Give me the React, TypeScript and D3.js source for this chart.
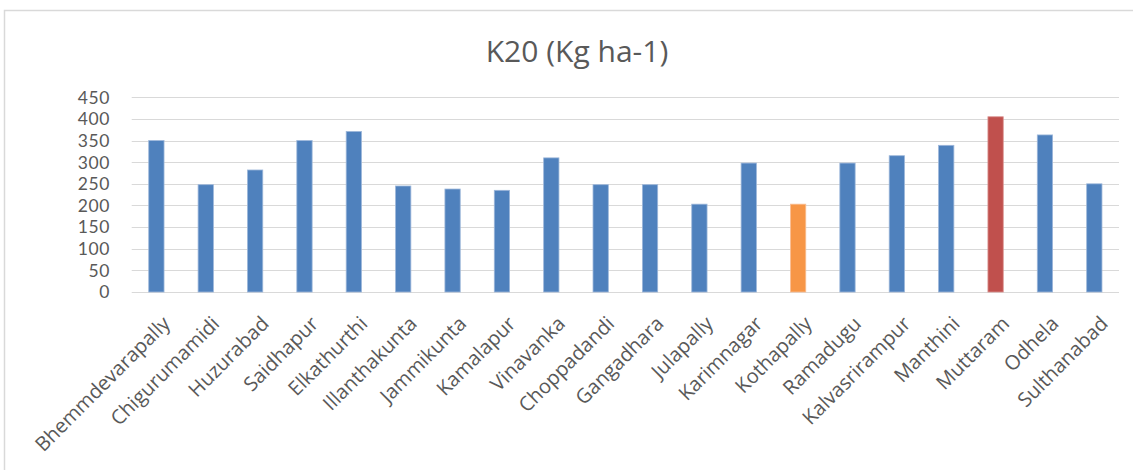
import React from "react";
import * as d3 from "d3";

// Available potassium (K2O) by mandal, kg per hectare
const mandals = [
  "Bhemmdevarapally", "Chigurumamidi", "Huzurabad", "Saidhapur", "Elkathurthi",
  "Illanthakunta", "Jammikunta", "Kamalapur", "Vinavanka", "Choppadandi",
  "Gangadhara", "Julapally", "Karimnagar", "Kothapally", "Ramadugu",
  "Kalvasrirampur", "Manthini", "Muttaram", "Odhela", "Sulthanabad",
];
const k2oValues = [
  350, 248, 282, 350, 371,
  245, 238, 235, 310, 248,
  248, 203, 298, 203, 298,
  315, 339, 405, 363, 250,
];
const yTicks = [0, 50, 100, 150, 200, 250, 300, 350, 400, 450];
const chartTitle = "K20 (Kg ha-1)";

// Mandals picked out in their own colour
const lowestMandal = "Kothapally";
const highestMandal = "Muttaram";

const W = 1133;
const H = 470;
const plot = { left: 131.7, right: 1119, top: 97.3, bottom: 292 };
const FONT = "'Open Sans', 'Liberation Sans', sans-serif";
const TEXT = "#595959";

function barColor(name: string): string {
  if (name === highestMandal) return "#C0504D";
  if (name === lowestMandal) return "#F79646";
  return "#4F81BD";
}
function barEdge(name: string): string {
  if (name === highestMandal) return "#D9928F";
  if (name === lowestMandal) return "#F9BE93";
  return "#9DB7DA";
}

export default function App() {
  const x = d3
    .scaleBand<string>()
    .domain(mandals)
    .range([plot.left, plot.right])
    .paddingInner(0.69)
    .paddingOuter(0.345);
  const y = d3.scaleLinear().domain([0, 450]).range([plot.bottom, plot.top]);

  return (
    <svg
      width={W}
      height={H}
      style={{ display: "block", position: "absolute", left: 0, top: 0, background: "#fff" }}
      fontFamily={FONT}
    >
      <rect x={0} y={0} width={W} height={H} fill="#fff" />
      <rect x={4.5} y={10.5} width={1142} height={480} fill="#fff" stroke="#D9D9D9" strokeWidth={1.5} />

      <text x={577} y={62} textAnchor="middle" fontSize={30} fill={TEXT}>
        {chartTitle}
      </text>

      {yTicks.map((t) => (
        <g key={t}>
          <line
            x1={plot.left}
            x2={plot.right}
            y1={Math.round(y(t)) + 0.5}
            y2={Math.round(y(t)) + 0.5}
            stroke="#D9D9D9"
            strokeWidth={1.2}
          />
          <text
            x={110}
            y={y(t)}
            dy="0.36em"
            textAnchor="end"
            fontSize={17.5}
            fontFamily="Lato, 'Open Sans', sans-serif"
            letterSpacing={0.6}
            fill={TEXT}
          >
            {t}
          </text>
        </g>
      ))}

      {mandals.map((m, i) => (
        <rect
          key={m}
          x={x(m)!}
          y={y(k2oValues[i])}
          width={x.bandwidth()}
          height={y(0) - y(k2oValues[i])}
          fill={barColor(m)}
          stroke={barEdge(m)}
          strokeWidth={0.8}
        />
      ))}

      {mandals.map((m) => {
        const cx = x(m)! + x.bandwidth() / 2 + 10;
        const cy = 320;
        return (
          <text
            key={m}
            transform={`translate(${cx},${cy}) rotate(-45)`}
            textAnchor="end"
            dy="0.35em"
            fontSize={20}
            fill={TEXT}
          >
            {m}
          </text>
        );
      })}
    </svg>
  );
}
